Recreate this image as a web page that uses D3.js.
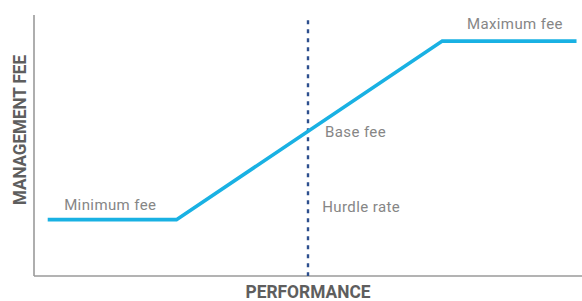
<!DOCTYPE html>
<html><head><meta charset="utf-8">
<script src="https://cdn.jsdelivr.net/npm/d3@7"></script>
<style>html,body{margin:0;padding:0;background:#fff;}</style>
</head><body>
<svg id="c" width="582" height="301"></svg>
<script>
const performance = [2.5, 26, 74.5, 99];
const fee = [21.6, 21.6, 90, 90];
const hurdleRate = 50;
const hurdleTop = 98;
const labels = [
  {text: "Minimum fee", x: 5.5, y: 25.3},
  {text: "Base fee", x: 53.1, y: 53.3},
  {text: "Hurdle rate", x: 52.6, y: 24.5},
  {text: "Maximum fee", x: 79, y: 94.5}
];
const xTitle = "PERFORMANCE";
const yTitle = "MANAGEMENT FEE";

const svg = d3.select("#c");
const x = d3.scaleLinear().domain([0, 100]).range([34, 582]);
const y = d3.scaleLinear().domain([0, 100]).range([276, 15]);

// axes
svg.append("line").attr("x1", x(0)).attr("x2", x(0)).attr("y1", y(100)).attr("y2", y(0))
  .attr("stroke", "#9a9a9a").attr("stroke-width", 1.6);
svg.append("line").attr("x1", x(0)).attr("x2", x(100)).attr("y1", y(0)).attr("y2", y(0))
  .attr("stroke", "#9a9a9a").attr("stroke-width", 1.6);

// hurdle dashed line
svg.append("line").attr("x1", x(hurdleRate)).attr("x2", x(hurdleRate))
  .attr("y1", y(hurdleTop)).attr("y2", y(0))
  .attr("stroke", "#2d4f8e").attr("stroke-width", 2.4).attr("stroke-dasharray", "4,5");

// fee line
const pts = performance.map((p, i) => [p, fee[i]]);
svg.append("path").datum(pts)
  .attr("d", d3.line().x(d => x(d[0])).y(d => y(d[1])))
  .attr("fill", "none").attr("stroke", "#19b1e3").attr("stroke-width", 3.6)
  .attr("stroke-linejoin", "miter");

// labels
svg.selectAll("text.lbl").data(labels).enter().append("text")
  .attr("class", "lbl")
  .attr("x", d => x(d.x)).attr("y", d => y(d.y))
  .attr("font-family", "Roboto, 'Liberation Sans', sans-serif")
  .attr("font-size", 15).attr("letter-spacing", 0.4).attr("fill", "#868686")
  .text(d => d.text);

// axis titles
svg.append("text").attr("x", x(50)).attr("y", 298)
  .attr("text-anchor", "middle")
  .attr("font-family", "'Liberation Sans Narrow', Roboto, sans-serif")
  .attr("font-weight", "bold").attr("font-size", 17.5).attr("fill", "#5e5e5e")
  .attr("textLength", 125).attr("lengthAdjust", "spacingAndGlyphs")
  .text(xTitle);
svg.append("text").attr("transform", `translate(26, 130) rotate(-90)`)
  .attr("text-anchor", "middle")
  .attr("font-family", "'Liberation Sans Narrow', Roboto, sans-serif")
  .attr("font-weight", "bold").attr("font-size", 17.5).attr("fill", "#5e5e5e")
  .attr("textLength", 150).attr("lengthAdjust", "spacingAndGlyphs")
  .text(yTitle);
</script>
</body></html>
